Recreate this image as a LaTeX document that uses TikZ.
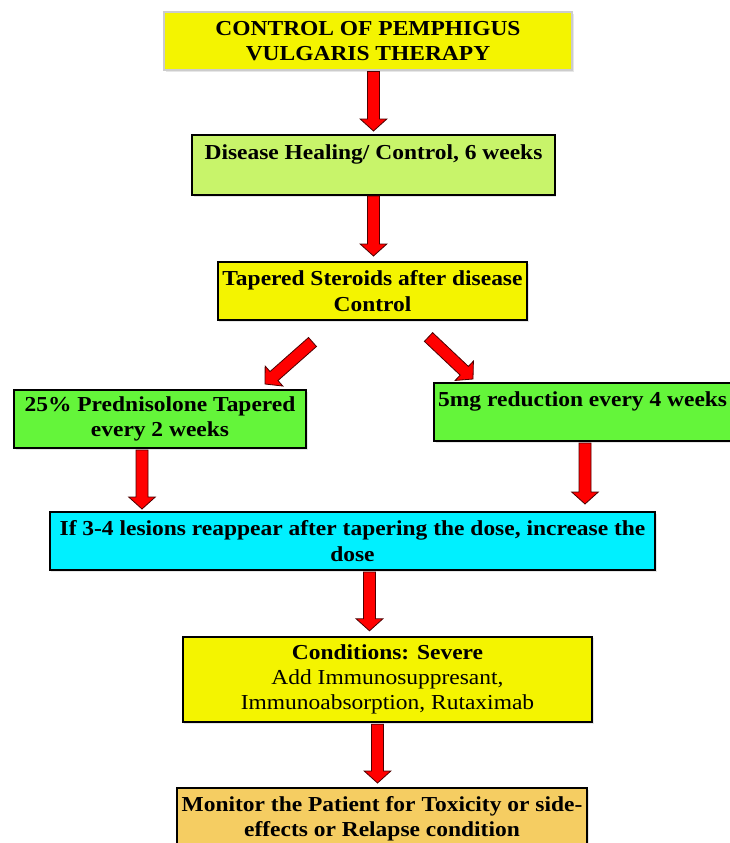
\documentclass[tikz,border=0pt]{standalone}
\usepackage{fontspec}
\setmainfont{Liberation Serif}[FakeStretch=1.1]
\usetikzlibrary{calc,shadows}
\definecolor{boxyellow}{HTML}{F4F400}
\definecolor{lightgreen}{HTML}{C8F46A}
\definecolor{brightgreen}{HTML}{64F53A}
\definecolor{boxcyan}{HTML}{00F0FF}
\definecolor{boxorange}{HTML}{F5CD62}
% block arrow from #1 to #2 (named coordinates)
\newcommand{\blockarrow}[2]{%
  \coordinate (hb) at ($(#2)!9pt!(#1)$);
  \draw[barr] ($(#1)!4.5pt!90:(#2)$) -- ($(hb)!4.5pt!90:(#2)$) -- ($(hb)!10pt!90:(#2)$) -- (#2)
    -- ($(hb)!10pt!-90:(#2)$) -- ($(hb)!4.5pt!-90:(#2)$) -- ($(#1)!4.5pt!-90:(#2)$) -- cycle;}
\begin{document}
\begin{tikzpicture}[x=0.75pt, y=-0.75pt,
  box/.style={draw, line width=1.5pt, align=center, inner sep=2pt, minimum height=43.5pt,
    font=\bfseries\fontsize{16}{19}\selectfont,
    drop shadow={opacity=0.2, shadow xshift=1.2pt, shadow yshift=-1.2pt}},
  barr/.style={draw=red!30!black, fill=red, line width=0.6pt}]
  \useasboundingbox (0,0) rectangle (730,843);
  \node[box, draw=gray!40, line width=0.8pt, fill=boxyellow, minimum width=306pt] (top) at (368,41) {CONTROL OF PEMPHIGUS\\VULGARIS THERAPY};
  \node[box, fill=lightgreen, minimum width=272pt, minimum height=45pt] (heal) at (373.5,165) {Disease Healing/ Control, 6 weeks\\ \mbox{}};
  \node[box, fill=boxyellow, minimum width=232pt] (taper) at (372.5,291) {Tapered Steroids after disease\\Control};
  \node[box, fill=brightgreen, minimum width=219pt] (pred) at (160,419) {25\% Prednisolone Tapered\\every 2 weeks};
  \node[box, fill=brightgreen, minimum width=231pt] (mg) at (588,412) {\hspace*{-8pt}5mg reduction every 4 weeks\\ \mbox{}};
  \node[box, fill=boxcyan, minimum width=454pt] (dose) at (352.5,541) {If 3-4 lesions reappear after tapering the dose, increase the\\dose};
  \node[box, fill=boxyellow, minimum width=307pt, minimum height=64pt] (sev) at (387.5,679.5) {Conditions: Severe\\{\mdseries Add Immunosuppresant,}\\{\mdseries Immunoabsorption, Rutaximab}};
  \node[box, fill=boxorange, minimum width=307.5pt, minimum height=46.5pt] (mon) at (382,819) {Monitor the Patient for Toxicity or side-\\effects or Relapse condition};
  % arrow ends
  \coordinate (a1s) at ($(top.south -| heal.north)+(0,1)$); \coordinate (a1e) at ($(heal.north)+(0,-3)$);
  \coordinate (a2s) at (heal.south);               \coordinate (a2e) at ($(a2s |- taper.north)+(0,-5)$);
  \coordinate (a3s) at ($(taper.south)+(-60,21)$); \coordinate (a3e) at ($(pred.north)+(105,-5)$);
  \coordinate (a4s) at ($(taper.south)+(56,16)$);  \coordinate (a4e) at ($(mg.north)+(-115,-3)$);
  \coordinate (a5s) at ($(pred.south)+(-18,1)$);   \coordinate (a5e) at ($(a5s |- dose.north)+(0,-2)$);
  \coordinate (a6s) at ($(mg.south)+(-3,1)$);      \coordinate (a6e) at ($(a6s |- dose.north)+(0,-7)$);
  \coordinate (a7s) at ($(dose.south)+(17,1)$);    \coordinate (a7e) at ($(a7s |- sev.north)+(0,-5)$);
  \coordinate (a8s) at ($(sev.south)+(-10,1)$);    \coordinate (a8e) at ($(a8s |- mon.north)+(0,-4)$);
  \foreach \i in {1,...,8}{ \blockarrow{a\i s}{a\i e} }
\end{tikzpicture}
\end{document}
